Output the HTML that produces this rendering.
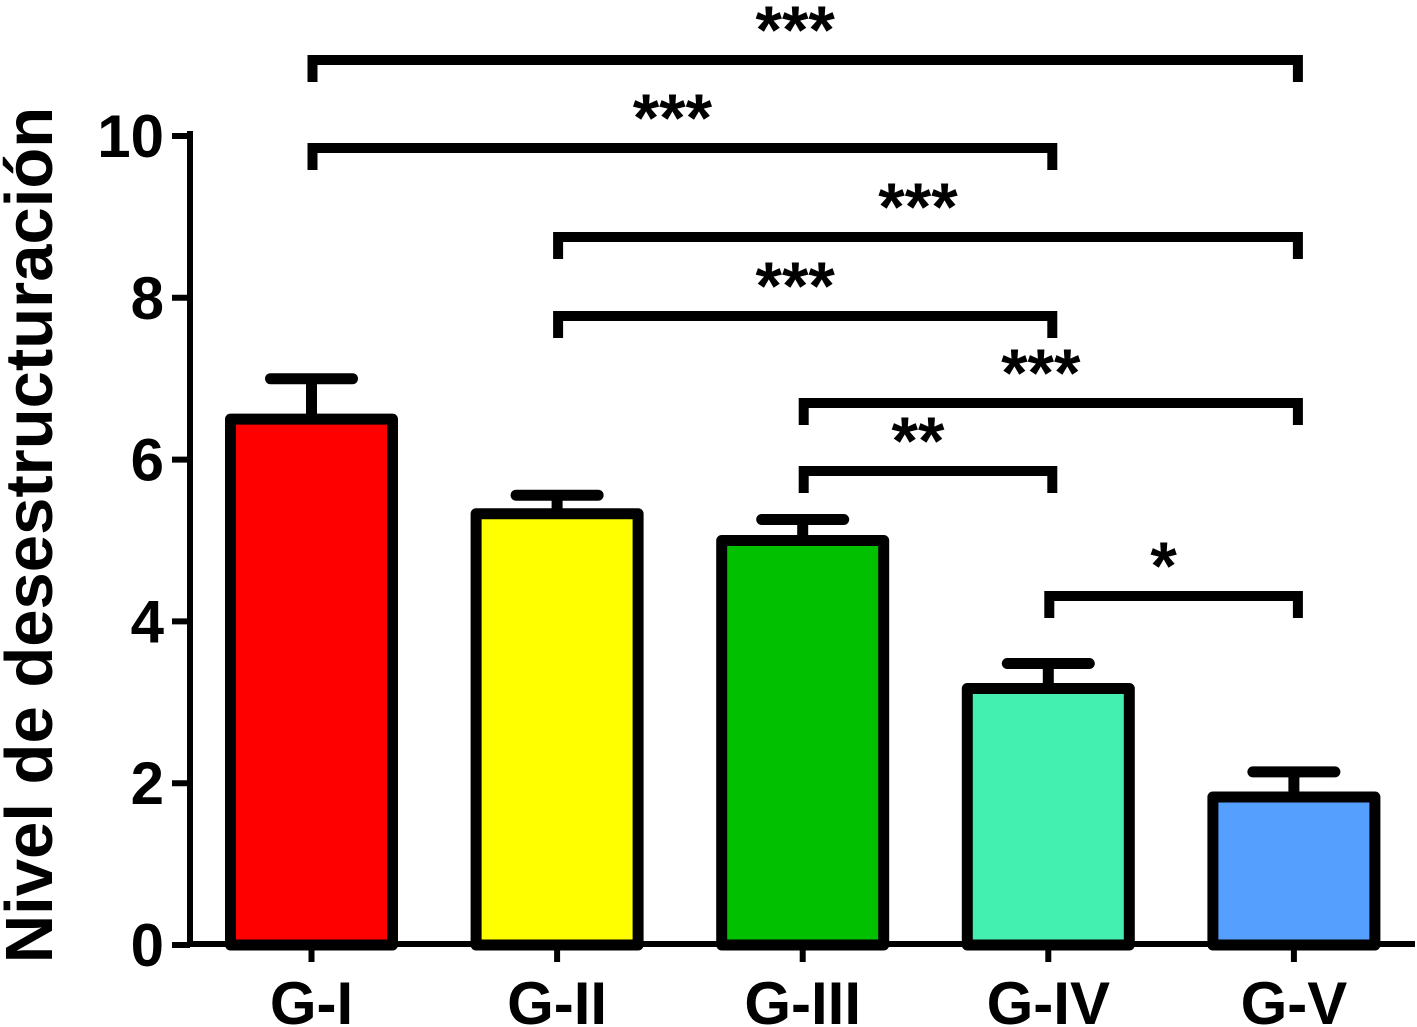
<!DOCTYPE html>
<html><head><meta charset="utf-8"><style>
body{margin:0;background:#fff}
svg{display:block;font-family:"Liberation Sans",Arial,sans-serif;font-weight:bold}
</style></head><body>
<svg id="c" width="1417" height="1027" viewBox="0 0 1417 1027"></svg>
<script>
const categories=["G-I","G-II","G-III","G-IV","G-V"];
const means=[6.5,5.33,5.0,3.17,1.83];
const errors=[0.5,0.23,0.26,0.31,0.31];
const colors=["#ff0000","#ffff00","#00c000","#44f0b0","#55a0ff"];
const yTicks=[0,2,4,6,8,10];
const sigFrom=[0,0,1,1,2,2,3];
const sigTo=[4,3,4,3,4,3,4];
const sigLabels=["***","***","***","***","***","**","*"];
const sigLevels=[60,148,237,316,403,471,596];
const NS="http://www.w3.org/2000/svg";
const svg=document.getElementById('c');
const y=v=>945-v*80.9;
const x=i=>311.5+i*245.6;
function mk(t,a,p){const e=document.createElementNS(NS,t);for(const k in a)e.setAttribute(k,a[k]);(p||svg).appendChild(e);return e;}
let ax=mk('line',{x1:190,y1:131,x2:190,y2:947,stroke:'#000','stroke-width':6});


let bx=mk('line',{x1:187,y1:944,x2:1415,y2:944,stroke:'#000','stroke-width':6});


yTicks.forEach(v=>{
  let l=mk('line',{x1:172,y1:y(v),x2:190,y2:y(v),stroke:'#000','stroke-width':6});
  
  
  let t=mk('text',{x:164,y:y(v)+21,'text-anchor':'end','font-size':60});
  t.textContent=v;
  
  
});
let yt=mk('text',{x:0,y:0,'text-anchor':'middle','font-size':67,transform:'translate(52,535) rotate(-90)'});
yt.textContent='Nivel de desestructuración';


categories.forEach((c,i)=>{
  const cx=x(i);
  let e=mk('line',{x1:cx,y1:y(means[i]),x2:cx,y2:y(means[i]+errors[i]),stroke:'#000','stroke-width':11});
  
  
  let cap=mk('line',{x1:cx-41,y1:y(means[i]+errors[i]),x2:cx+41,y2:y(means[i]+errors[i]),stroke:'#000','stroke-width':11,'stroke-linecap':'round'});
  
  
  let r=mk('rect',{x:cx-81,y:y(means[i]),width:162,height:y(0)-y(means[i]),fill:colors[i],stroke:'#000','stroke-width':11,'stroke-linejoin':'round'});
  
  
  let tk=mk('line',{x1:cx,y1:944,x2:cx,y2:962,stroke:'#000','stroke-width':6});
  
  
  let t=mk('text',{x:cx,y:1024,'text-anchor':'middle','font-size':60});
  t.textContent=c;
  
  
});
sigFrom.forEach((f,k)=>{
  const x1=x(f)+1,x2=x(sigTo[k])+4,ly=sigLevels[k];
  let p=mk('path',{d:`M${x1},${ly+22}V${ly}H${x2}V${ly+22}`,fill:'none',stroke:'#000','stroke-width':10});
  
  
  let t=mk('text',{x:(x1+x2)/2-10,y:ly-7,'text-anchor':'middle','font-size':68});
  t.textContent=sigLabels[k];
  
  
});
</script>
</body></html>
